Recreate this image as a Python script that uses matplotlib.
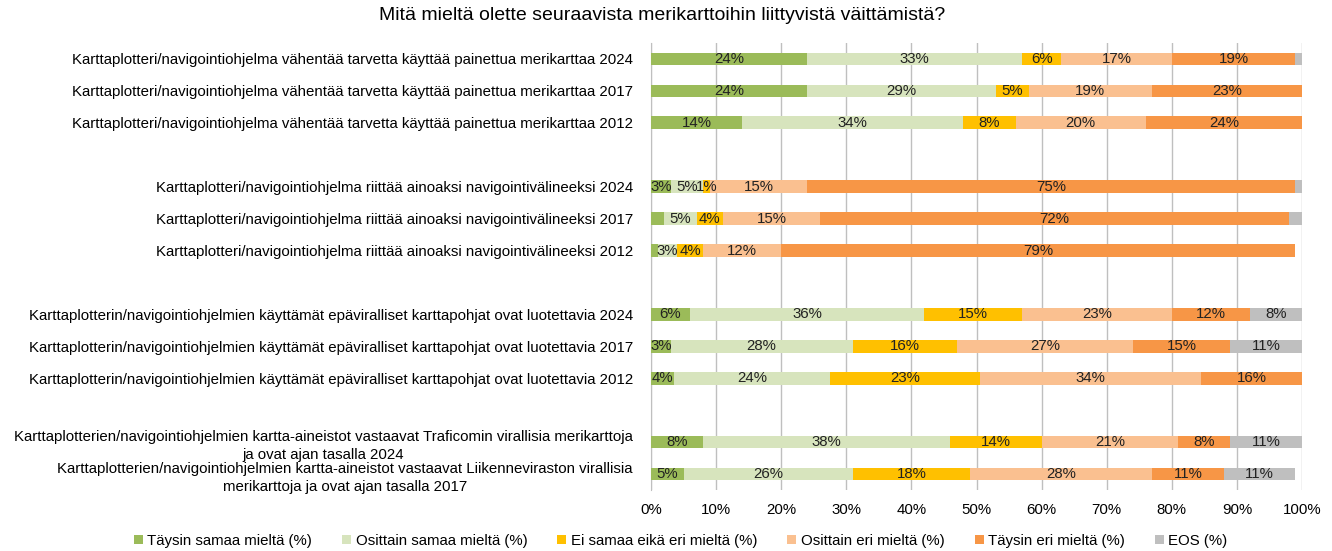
import matplotlib
matplotlib.use("Agg")
import matplotlib.pyplot as plt
import numpy as np

plt.rcParams['font.family'] = ['Liberation Sans', 'DejaVu Sans']

title = "Mitä mieltä olette seuraavista merikarttoihin liittyvistä väittämistä?"

categories = [
    "Karttaplotteri/navigointiohjelma vähentää tarvetta käyttää painettua merikarttaa 2024",
    "Karttaplotteri/navigointiohjelma vähentää tarvetta käyttää painettua merikarttaa 2017",
    "Karttaplotteri/navigointiohjelma vähentää tarvetta käyttää painettua merikarttaa 2012",
    "Karttaplotteri/navigointiohjelma riittää ainoaksi navigointivälineeksi 2024",
    "Karttaplotteri/navigointiohjelma riittää ainoaksi navigointivälineeksi 2017",
    "Karttaplotteri/navigointiohjelma riittää ainoaksi navigointivälineeksi 2012",
    "Karttaplotterin/navigointiohjelmien käyttämät epäviralliset karttapohjat ovat luotettavia 2024",
    "Karttaplotterin/navigointiohjelmien käyttämät epäviralliset karttapohjat ovat luotettavia 2017",
    "Karttaplotterin/navigointiohjelmien käyttämät epäviralliset karttapohjat ovat luotettavia 2012",
    "Karttaplotterien/navigointiohjelmien kartta-aineistot vastaavat Traficomin virallisia merikarttoja\nja ovat ajan tasalla 2024",
    "Karttaplotterien/navigointiohjelmien kartta-aineistot vastaavat Liikenneviraston virallisia\nmerikarttoja ja ovat ajan tasalla 2017",
]

series = ["Täysin samaa mieltä (%)", "Osittain samaa mieltä (%)", "Ei samaa eikä eri mieltä (%)",
          "Osittain eri mieltä (%)", "Täysin eri mieltä (%)", "EOS (%)"]

taysin_samaa = [24, 24, 14, 3, 2, 1, 6, 3, 3.5, 8, 5]
osittain_samaa = [33, 29, 34, 5, 5, 3, 36, 28, 24, 38, 26]
ei_samaa_eika_eri = [6, 5, 8, 1, 4, 4, 15, 16, 23, 14, 18]
osittain_eri = [17, 19, 20, 15, 15, 12, 23, 27, 34, 21, 28]
taysin_eri = [19, 23, 24, 75, 72, 79, 12, 15, 15.5, 8, 11]
eos = [1, 0, 0, 1, 2, 0, 8, 11, 0, 11, 11]

# segments without a printed label (series index, row index)
unlabeled = [(5, 0), (5, 3), (0, 4), (5, 4), (0, 5)]

colors = ["#9BBB59", "#D7E4BD", "#FFC000", "#FAC090", "#F79646", "#BFBFBF"]

data = [taysin_samaa, osittain_samaa, ei_samaa_eika_eri, osittain_eri, taysin_eri, eos]

# slot positions, with an empty slot between groups
slots = [0, 1, 2, 4, 5, 6, 8, 9, 10, 12, 13]

fs = 10.8

fig = plt.figure(figsize=(13.32, 5.51), dpi=100)
ax = fig.add_axes([651/1332, 1 - 490/551, 651/1332, 447/551])

left = np.zeros(len(categories))
for i, vals in enumerate(data):
    vals = np.array(vals, dtype=float)
    ax.barh(slots, vals, left=left, height=0.4, color=colors[i], label=series[i], zorder=3)
    for j, v in enumerate(vals):
        if v > 0 and (i, j) not in unlabeled:
            ax.text(left[j] + v / 2, slots[j], f"{v:.0f}%", ha='center', va='center',
                    fontsize=fs, color='#222222', zorder=4)
    left += vals

ax.set_xlim(0, 100)
ax.set_ylim(13.5, -0.5)
ax.set_xticks(np.arange(0, 101, 10))
ax.set_xticklabels([f"{t}%" for t in range(0, 101, 10)], fontsize=fs)
ax.set_yticks(slots)
ax.set_yticklabels(categories, fontsize=fs, multialignment='center', linespacing=1.4)
ax.tick_params(length=0, pad=13)
ax.tick_params(axis='x', pad=9)
ax.grid(axis='x', color='#BFBFBF', linewidth=1, zorder=0)
for s in ['top', 'right', 'bottom']:
    ax.spines[s].set_visible(False)
ax.spines['left'].set_color('#BFBFBF')
ax.spines['left'].set_zorder(0)

fig.text(0.497, 1 - 15/551, title, ha='center', va='center', fontsize=14)

fig.legend(loc='center', bbox_to_anchor=(0.511, 1 - 541/551), ncol=6, frameon=False,
           fontsize=fs, handlelength=0.6, handleheight=0.6, columnspacing=2.0,
           handletextpad=0.3)

fig.savefig("out.png", dpi=100)
